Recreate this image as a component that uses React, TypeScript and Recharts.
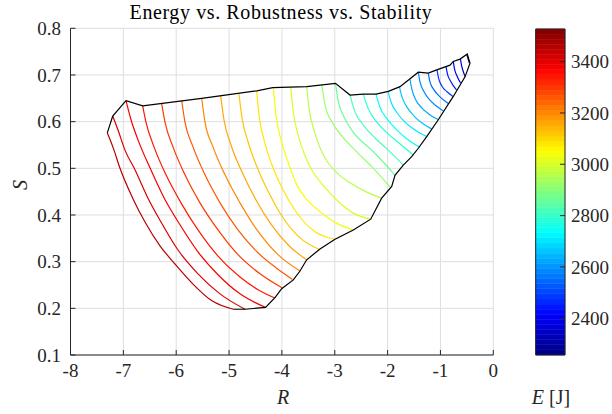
import React from "react";
import { LineChart, ComposedChart, Line, XAxis, YAxis, CartesianGrid, ReferenceArea } from "recharts";

// axes
const rTicks = [-8, -7, -6, -5, -4, -3, -2, -1, 0];
const sTicks = [0.1, 0.2, 0.3, 0.4, 0.5, 0.6, 0.7, 0.8];
const eTicks = [2400, 2600, 2800, 3000, 3200, 3400];
const E_MIN = 2257;
const E_MAX = 3527;

// contour levels (J), one per line below, high energy -> low energy
const levels = [
  3460, 3418, 3376, 3334, 3292, 3250, 3208, 3166, 3124, 3082, 3040, 2998, 2956, 2914,
  2872, 2830, 2788, 2746, 2704, 2662, 2620, 2578, 2536, 2494, 2452, 2410, 2368, 2326,
];

// contour lines as [R, S] pairs
const contourLines: number[][][] = [
  [[-7.304, 0.576], [-7.177, 0.539], [-7.063, 0.5], [-6.823, 0.436], [-6.59, 0.385], [-6.307, 0.334], [-6.023, 0.295], [-5.682, 0.252], [-5.323, 0.216], [-4.92, 0.198]],
  [[-7.201, 0.612], [-7.101, 0.582], [-6.969, 0.539], [-6.78, 0.497], [-6.534, 0.436], [-6.288, 0.385], [-5.966, 0.325], [-5.588, 0.274], [-5.171, 0.231], [-4.698, 0.198]],
  [[-6.95, 0.645], [-6.855, 0.604], [-6.723, 0.561], [-6.496, 0.501], [-6.231, 0.437], [-5.928, 0.379], [-5.588, 0.321], [-5.209, 0.272], [-4.793, 0.231], [-4.31, 0.202]],
  [[-6.634, 0.634], [-6.572, 0.599], [-6.42, 0.546], [-6.193, 0.486], [-5.909, 0.426], [-5.588, 0.368], [-5.209, 0.312], [-4.793, 0.267], [-4.452, 0.24], [-4.131, 0.222]],
  [[-6.274, 0.638], [-6.212, 0.599], [-6.061, 0.546], [-5.834, 0.486], [-5.55, 0.426], [-5.209, 0.368], [-4.831, 0.315], [-4.414, 0.274], [-3.998, 0.244]],
  [[-5.896, 0.645], [-5.834, 0.599], [-5.682, 0.546], [-5.455, 0.486], [-5.171, 0.426], [-4.831, 0.368], [-4.452, 0.319], [-4.112, 0.287], [-3.799, 0.262]],
  [[-5.518, 0.65], [-5.455, 0.599], [-5.304, 0.546], [-5.077, 0.486], [-4.793, 0.426], [-4.471, 0.368], [-4.074, 0.315], [-3.658, 0.28]],
  [[-5.158, 0.655], [-5.096, 0.604], [-4.963, 0.55], [-4.755, 0.492], [-4.49, 0.432], [-4.187, 0.377], [-3.847, 0.332], [-3.531, 0.304]],
  [[-4.812, 0.659], [-4.755, 0.608], [-4.641, 0.557], [-4.471, 0.503], [-4.244, 0.447], [-3.979, 0.394], [-3.658, 0.351], [-3.289, 0.326]],
  [[-4.477, 0.666], [-4.433, 0.614], [-4.339, 0.561], [-4.187, 0.507], [-3.979, 0.454], [-3.733, 0.407], [-3.374, 0.364], [-2.995, 0.348]],
  [[-4.163, 0.673], [-4.112, 0.614], [-4.017, 0.561], [-3.885, 0.514], [-3.714, 0.464], [-3.506, 0.43], [-3.279, 0.407], [-2.963, 0.382], [-2.649, 0.368]],
  [[-3.834, 0.674], [-3.79, 0.625], [-3.695, 0.572], [-3.544, 0.522], [-3.411, 0.492], [-3.222, 0.464], [-2.963, 0.432], [-2.649, 0.404], [-2.314, 0.391]],
  [[-3.531, 0.676], [-3.487, 0.629], [-3.393, 0.582], [-3.26, 0.539], [-3.128, 0.512], [-2.938, 0.488], [-2.711, 0.469], [-2.395, 0.449], [-2.112, 0.436]],
  [[-3.247, 0.68], [-3.184, 0.636], [-3.052, 0.599], [-2.863, 0.569], [-2.617, 0.539], [-2.295, 0.503], [-1.955, 0.46]],
  [[-2.986, 0.682], [-2.938, 0.646], [-2.825, 0.61], [-2.655, 0.578], [-2.301, 0.539], [-2.087, 0.514], [-1.86, 0.485]],
  [[-2.711, 0.657], [-2.617, 0.621], [-2.447, 0.591], [-2.238, 0.565], [-1.987, 0.539], [-1.703, 0.507]],
  [[-2.46, 0.659], [-2.371, 0.629], [-2.219, 0.601], [-2.03, 0.578], [-1.803, 0.556], [-1.514, 0.529]],
  [[-2.219, 0.659], [-2.144, 0.631], [-2.011, 0.606], [-1.841, 0.584], [-1.633, 0.563], [-1.387, 0.545]],
  [[-1.992, 0.665], [-1.936, 0.642], [-1.822, 0.619], [-1.671, 0.599], [-1.482, 0.582], [-1.26, 0.568]],
  [[-1.775, 0.674], [-1.728, 0.653], [-1.633, 0.631], [-1.5, 0.612], [-1.349, 0.597], [-1.16, 0.584]],
  [[-1.576, 0.69], [-1.538, 0.668], [-1.463, 0.646], [-1.349, 0.629], [-1.217, 0.616], [-1.041, 0.604]],
  [[-1.419, 0.706], [-1.387, 0.685], [-1.311, 0.664], [-1.198, 0.646], [-1.084, 0.634], [-0.942, 0.623]],
  [[-1.23, 0.704], [-1.198, 0.685], [-1.122, 0.668], [-1.009, 0.653], [-0.851, 0.639]],
  [[-1.065, 0.711], [-1.037, 0.694], [-0.971, 0.676], [-0.876, 0.664], [-0.763, 0.654]],
  [[-0.895, 0.718], [-0.867, 0.702], [-0.81, 0.687], [-0.696, 0.668]],
  [[-0.757, 0.729], [-0.734, 0.713], [-0.687, 0.698], [-0.621, 0.683]],
  [[-0.621, 0.734], [-0.602, 0.721], [-0.573, 0.709], [-0.535, 0.697]],
  [[-0.503, 0.744], [-0.479, 0.735], [-0.45, 0.725]],
];

// black edge of the feasible region (open, the lowest contour closes it)
const boundary: number[][] = [
  [-4.92, 0.198], [-4.698, 0.198], [-4.31, 0.202], [-4.131, 0.223], [-4.004, 0.242], [-3.784, 0.261],
  [-3.658, 0.28], [-3.531, 0.304], [-3.279, 0.327], [-2.995, 0.348], [-2.649, 0.368], [-2.32, 0.391],
  [-2.112, 0.436], [-1.922, 0.461], [-1.86, 0.485], [-1.703, 0.507], [-1.544, 0.525], [-1.419, 0.543],
  [-1.26, 0.568], [-1.041, 0.604], [-0.757, 0.654], [-0.535, 0.696], [-0.441, 0.725], [-0.492, 0.745],
  [-0.63, 0.734], [-0.757, 0.729], [-0.819, 0.721], [-1.071, 0.711], [-1.23, 0.704], [-1.419, 0.706],
  [-1.765, 0.675], [-1.987, 0.665], [-2.219, 0.659], [-2.46, 0.659], [-2.711, 0.657], [-2.986, 0.682],
  [-3.531, 0.675], [-4.174, 0.673], [-4.477, 0.666], [-5.518, 0.65], [-6.634, 0.634], [-6.95, 0.645],
  [-7.201, 0.612], [-7.304, 0.576],
];

const FONT = "'Liberation Serif', 'Times New Roman', serif";
const AXIS = "#262626";

function jet(t: number) {
  const c = (v: number) => Math.round(255 * Math.min(1, Math.max(0, v)));
  return `rgb(${c(1.5 - Math.abs(4 * t - 3))},${c(1.5 - Math.abs(4 * t - 2))},${c(1.5 - Math.abs(4 * t - 1))})`;
}

function energyColor(e: number) {
  const i = Math.min(63, Math.max(0, Math.floor(((e - E_MIN) / (E_MAX - E_MIN)) * 64)));
  return jet((i + 0.5) / 64);
}

const toRows = (pts: number[][]) => pts.map(([r, s]) => ({ r, s }));

const bands = Array.from({ length: 64 }, (_, i) => ({
  lo: E_MIN + (i * (E_MAX - E_MIN)) / 64,
  hi: E_MIN + ((i + 1) * (E_MAX - E_MIN)) / 64,
  color: jet((i + 0.5) / 64),
}));

const tickStyle = { fill: AXIS, fontSize: 19, fontFamily: FONT };

export default function App() {
  return (
    <div style={{ position: "absolute", left: 0, top: 0, width: 612, height: 414, background: "#fff" }}>
      <div style={{ position: "absolute", left: 0, top: 0 }}>
        <LineChart width={612} height={414} margin={{ top: 28.3, right: 118.7, bottom: 0, left: 0 }}>
          <CartesianGrid stroke="#dedede" strokeWidth={1} />
          <XAxis
            type="number"
            dataKey="r"
            domain={[-8, 0]}
            ticks={rTicks}
            allowDataOverflow
            height={59}
            tick={tickStyle}
            tickSize={-5}
            tickMargin={14}
            stroke={AXIS}
            axisLine={{ stroke: AXIS }}
            tickLine={{ stroke: AXIS }}
          />
          <YAxis
            type="number"
            dataKey="s"
            domain={[0.1, 0.8]}
            ticks={sTicks}
            allowDataOverflow
            width={70.5}
            tick={tickStyle}
            tickSize={-5}
            tickMargin={14.5}
            axisLine={{ stroke: AXIS }}
            tickLine={{ stroke: AXIS }}
          />
          {contourLines.map((pts, i) => (
            <Line
              key={`c${i}`}
              data={toRows(pts)}
              dataKey="s"
              type="monotone"
              stroke={energyColor(levels[i])}
              strokeWidth={1.2}
              dot={false}
              isAnimationActive={false}
            />
          ))}
          <Line
            data={toRows(boundary)}
            dataKey="s"
            type="linear"
            stroke="#000"
            strokeWidth={1.2}
            dot={false}
            isAnimationActive={false}
          />
        </LineChart>
      </div>

      <div style={{ position: "absolute", left: 0, top: 0 }}>
        <ComposedChart
          width={612}
          height={414}
          data={[{ x: 0, e: E_MIN }, { x: 1, e: E_MAX }]}
          margin={{ top: 29, right: 0, bottom: 59, left: 535.7 }}
        >
          <XAxis type="number" dataKey="x" domain={[0, 1]} hide />
          <YAxis
            type="number"
            orientation="right"
            domain={[E_MIN, E_MAX]}
            ticks={eTicks}
            allowDataOverflow
            width={47}
            tick={tickStyle}
            tickSize={-5}
            tickMargin={11}
            axisLine={false}
            tickLine={{ stroke: AXIS }}
          />
          {bands.map((b, i) => (
            <ReferenceArea
              key={`b${i}`}
              x1={0}
              x2={1}
              y1={b.lo}
              y2={b.hi}
              fill={b.color}
              fillOpacity={1}
              stroke={b.color}
              strokeWidth={0.5}
            />
          ))}
          <ReferenceArea x1={0} x2={1} y1={E_MIN} y2={E_MAX} fill="none" stroke={AXIS} strokeWidth={1} />
          <Line dataKey="e" stroke="none" dot={false} isAnimationActive={false} />
        </ComposedChart>
      </div>

      <svg width={612} height={414} style={{ position: "absolute", left: 0, top: 0, pointerEvents: "none" }}>
        <text x={281} y={19} textAnchor="middle" fontFamily={FONT} fontSize={20} letterSpacing={0.6} fill="#000">
          Energy vs. Robustness vs. Stability
        </text>
        <text x={283} y={404} textAnchor="middle" fontFamily={FONT} fontSize={20} fontStyle="italic" fill={AXIS}>
          R
        </text>
        <text
          x={0}
          y={0}
          transform="translate(27,185) rotate(-90)"
          textAnchor="middle"
          fontFamily={FONT}
          fontSize={20}
          fontStyle="italic"
          fill={AXIS}
        >
          S
        </text>
        <text x={551} y={404} textAnchor="middle" fontFamily={FONT} fontSize={20} fill={AXIS}>
          <tspan fontStyle="italic">E</tspan> [J]
        </text>
      </svg>
    </div>
  );
}
